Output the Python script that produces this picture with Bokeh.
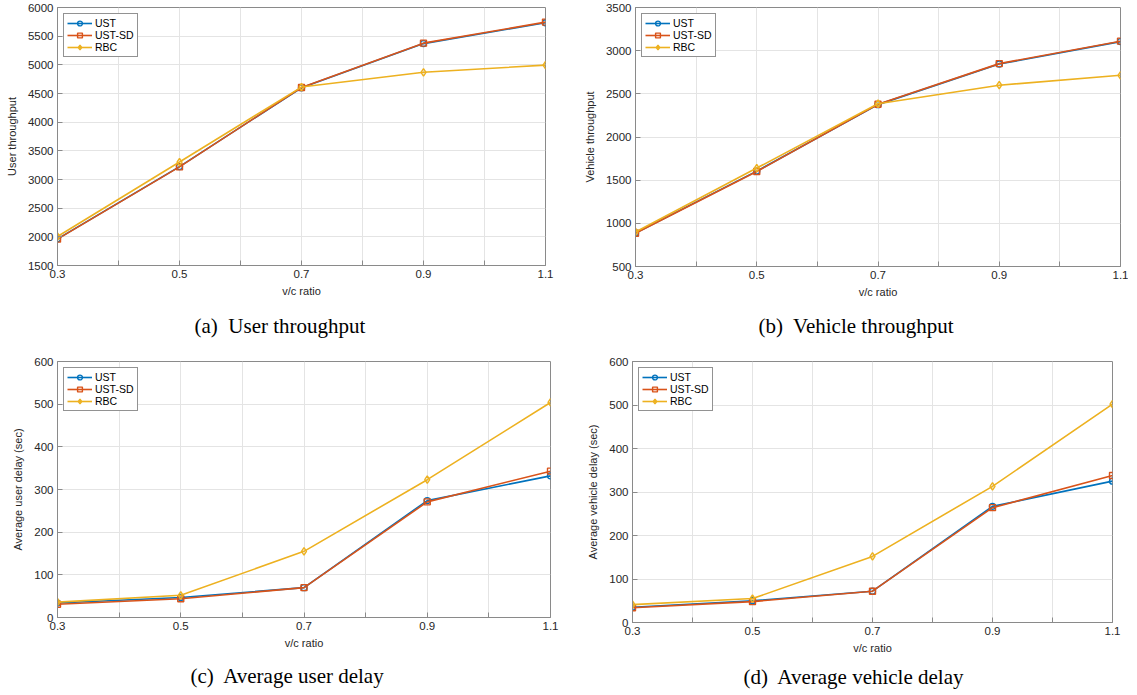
from bokeh.plotting import figure
from bokeh.models import Range1d, FixedTicker, Legend, LegendItem, Title
from bokeh.layouts import column, row
from bokeh.embed import file_html
from bokeh.resources import INLINE

# ---------------- data ----------------
VC = [0.3, 0.5, 0.7, 0.9, 1.1]
X_TICKS = [0.3, 0.4, 0.5, 0.6, 0.7, 0.8, 0.9, 1.0, 1.1]
X_HIDDEN = [0.4, 0.6, 0.8, 1.0]
SERIES = ["UST", "UST-SD", "RBC"]

USER_THR_UST = [1965, 3225, 4600, 5370, 5735]
USER_THR_USTSD = [1960, 3220, 4605, 5378, 5745]
USER_THR_RBC = [2005, 3305, 4612, 4870, 4995]

VEH_THR_UST = [888, 1605, 2375, 2845, 3105]
VEH_THR_USTSD = [885, 1600, 2380, 2850, 3110]
VEH_THR_RBC = [900, 1640, 2385, 2600, 2715]

USER_DELAY_UST = [34, 47, 70, 274, 332]
USER_DELAY_USTSD = [31, 44, 70, 271, 343]
USER_DELAY_RBC = [36, 52, 155, 323, 504]

VEH_DELAY_UST = [35, 50, 72, 267, 325]
VEH_DELAY_USTSD = [34, 48, 72, 264, 338]
VEH_DELAY_RBC = [41, 55, 152, 313, 502]

COLORS = ["#0072BD", "#D95319", "#EDB120"]
MARKERS = ["circle", "square", "diamond"]

FONT = "Liberation Sans"
AXIS_COL = "#8a8a8a"
TEXT_COL = "#262626"
GRID_COL = "#e4e4e4"


def style_axis(ax, ticks, overrides=None):
    ax.ticker = FixedTicker(ticks=ticks)
    ax.axis_line_color = AXIS_COL
    ax.major_tick_line_color = AXIS_COL
    ax.major_tick_in = 5
    ax.major_tick_out = 0
    ax.minor_tick_line_color = None
    ax.major_label_text_font = FONT
    ax.major_label_text_font_size = "11.5px"
    ax.major_label_text_color = TEXT_COL
    ax.major_label_standoff = 4
    ax.axis_label_text_font = FONT
    ax.axis_label_text_font_size = "11px"
    ax.axis_label_text_font_style = "normal"
    ax.axis_label_text_color = TEXT_COL
    if overrides:
        ax.major_label_overrides = overrides


def make_panel(ys, ylabel, caption, y_lo, y_hi, y_step, fw, fh,
               left, top, right, bottom, cap_offset, cap_standoff):
    y_ticks = list(range(y_lo, y_hi + 1, y_step))
    p = figure(frame_width=fw, frame_height=fh, output_backend="svg",
               toolbar_location=None, x_range=Range1d(0.3, 1.1),
               y_range=Range1d(y_lo, y_hi), min_border_left=left,
               min_border_right=right, min_border_top=top,
               min_border_bottom=bottom, background_fill_color="white",
               border_fill_color="white", outline_line_color=AXIS_COL,
               outline_line_width=1)
    p.xaxis.axis_label = "v/c ratio"
    p.yaxis.axis_label = ylabel
    style_axis(p.xaxis[0], X_TICKS, overrides={t: "" for t in X_HIDDEN})
    style_axis(p.yaxis[0], y_ticks)
    p.xaxis.axis_label_standoff = 4
    p.yaxis.axis_label_standoff = 7

    p.xgrid.ticker = FixedTicker(ticks=X_TICKS)
    p.ygrid.ticker = FixedTicker(ticks=y_ticks)
    p.xgrid.grid_line_color = GRID_COL
    p.ygrid.grid_line_color = GRID_COL

    items = []
    for name, y, c, m in zip(SERIES, ys, COLORS, MARKERS):
        ln = p.line(VC, y, line_color=c, line_width=1.6)
        sc = p.scatter(VC, y, marker=m, size=6 if m != "diamond" else 7.5,
                       line_color=c, line_width=1.4, fill_color=None)
        items.append(LegendItem(label=name, renderers=[ln, sc]))
    leg = Legend(items=items, location="top_left", margin=6, padding=3,
                 spacing=0, glyph_width=25, glyph_height=12, label_height=12,
                 label_standoff=3, label_text_font=FONT,
                 label_text_font_size="10.5px", label_text_color="black",
                 border_line_color="#262626", border_line_width=1,
                 background_fill_color="white", background_fill_alpha=1.0)
    p.add_layout(leg)

    t = Title(text=caption, align="left", offset=cap_offset,
              text_font="Liberation Serif", text_font_size="21px",
              text_font_style="normal", text_color="black",
              standoff=cap_standoff)
    p.add_layout(t, "below")
    return p


pa = make_panel([USER_THR_UST, USER_THR_USTSD, USER_THR_RBC], "User throughput",
                "(a)\u00a0 User throughput", 1500, 6000, 500,
                488, 258, 57, 7, 35, 83, 137, 24)
pb = make_panel([VEH_THR_UST, VEH_THR_USTSD, VEH_THR_RBC], "Vehicle throughput",
                "(b)\u00a0 Vehicle throughput", 500, 3500, 500,
                485, 259, 49, 7, 8, 82, 123, 23)
pc = make_panel([USER_DELAY_UST, USER_DELAY_USTSD, USER_DELAY_RBC],
                "Average user delay (sec)",
                "(c)\u00a0 Average user delay", 0, 600, 100,
                493, 256, 57, 12, 33, 71, 133, 20)
pd = make_panel([VEH_DELAY_UST, VEH_DELAY_USTSD, VEH_DELAY_RBC],
                "Average vehicle delay (sec)",
                "(d)\u00a0 Average vehicle delay", 0, 600, 100,
                480, 261, 49, 12, 12, 66, 111, 13)

layout = column(row(pa, pb), row(pc, pd))
open("out.html", "w").write(file_html(layout, INLINE))
